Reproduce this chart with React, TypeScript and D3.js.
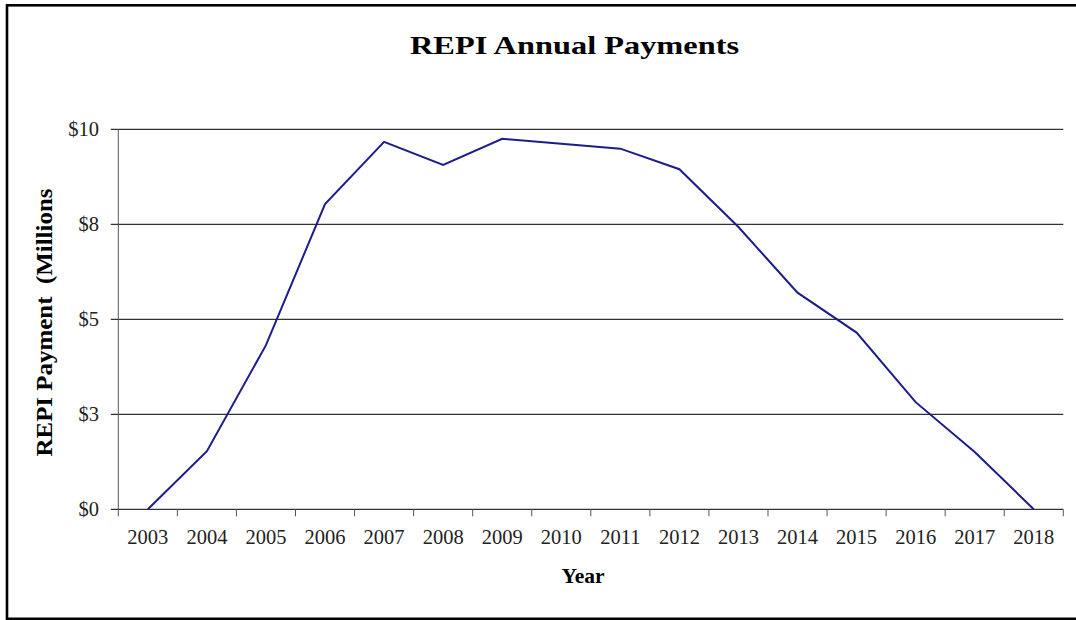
import React from "react";
import * as d3 from "d3";

const years = ["2003","2004","2005","2006","2007","2008","2009","2010","2011","2012","2013","2014","2015","2016","2017","2018"];
const payments = [0, 1.53, 4.32, 8.03, 9.67, 9.06, 9.75, 9.62, 9.49, 8.95, 7.43, 5.70, 4.65, 2.82, 1.51, 0];
const yTicks = [0, 2.5, 5, 7.5, 10];
const yTickLabels = ["$0", "$3", "$5", "$8", "$10"];
const title = "REPI Annual Payments";
const xTitle = "Year";
const yTitle = "REPI Payment  (Millions";

const W = 1076, H = 620;
const left = 118.3, right = 1063.3, top = 129.3, bottom = 509.3;
const FONT = "'Liberation Serif', 'Times New Roman', serif";

export default function App() {
  const x = d3.scaleBand<string>().domain(years).range([left, right]);
  const y = d3.scaleLinear().domain([0, 10]).range([bottom, top]);
  const line = d3.line<number>()
    .x((_, i) => (x(years[i]) as number) + x.bandwidth() / 2)
    .y((d) => y(d));
  const boundaries = years.map((yr) => x(yr) as number).concat([right]);

  return (
    <svg width={W} height={H} style={{ position: "absolute", left: 0, top: 0, background: "#fff" }}>
      <rect x={7} y={5.3} width={1090} height={613.5} fill="#fff" stroke="#000" strokeWidth={2.6} />
      <text x={574.5} y={54.3} textAnchor="middle" fontFamily={FONT} fontWeight="bold" fontSize={25}
        textLength={329} lengthAdjust="spacingAndGlyphs" fill="#000">{title}</text>

      {yTicks.map((t, i) => (
        <g key={t}>
          <line x1={left - 7.5} x2={right} y1={y(t)} y2={y(t)} stroke="#000" strokeWidth={1} />
          <text x={99} y={y(t)} dy="0.35em" textAnchor="end" fontFamily={FONT} fontSize={20.5} fill="#222">{yTickLabels[i]}</text>
        </g>
      ))}
      <line x1={left} x2={left} y1={top} y2={bottom} stroke="#555" strokeWidth={1} />
      {boundaries.map((b, i) => (
        <line key={i} x1={b} x2={b} y1={bottom} y2={bottom + 7} stroke="#555" strokeWidth={1} />
      ))}
      {years.map((yr) => (
        <text key={yr} x={(x(yr) as number) + x.bandwidth() / 2} y={543.5} textAnchor="middle"
          fontFamily={FONT} fontSize={20.5} fill="#222">{yr}</text>
      ))}

      <path d={line(payments) as string} fill="none" stroke="#1c1c8c" strokeWidth={2} strokeLinejoin="miter" />

      <text x={583} y={583.3} textAnchor="middle" fontFamily={FONT} fontWeight="bold" fontSize={21.5} fill="#000">{xTitle}</text>
      <text transform={`translate(52, 322.5) rotate(-90)`} textAnchor="middle" fontFamily={FONT} fontWeight="bold"
        fontSize={23} textLength={268} lengthAdjust="spacingAndGlyphs" fill="#000"
        style={{ whiteSpace: "pre" }}>{yTitle}</text>
    </svg>
  );
}
